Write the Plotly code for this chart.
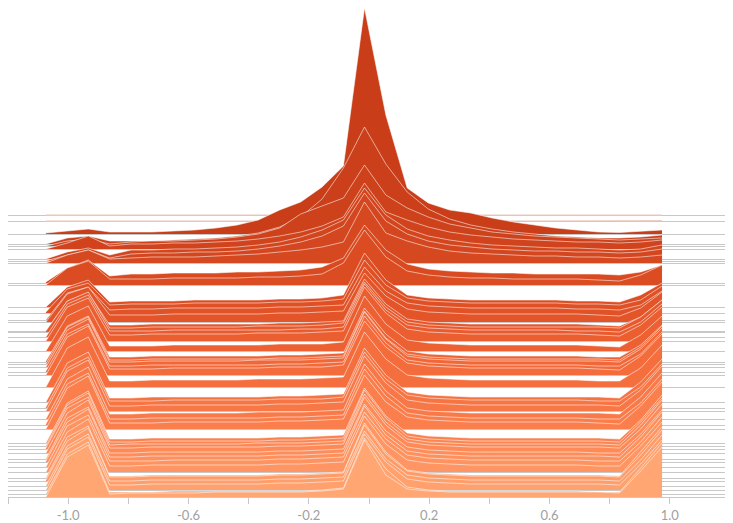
import plotly.graph_objects as go

# sample positions shared by every ridge
x_vals = [-1.074, -1.003, -0.933, -0.862, -0.791, -0.721, -0.650, -0.580, -0.509, -0.438,
          -0.368, -0.297, -0.227, -0.156, -0.085, -0.015, 0.056, 0.127, 0.197, 0.268,
          0.338, 0.409, 0.480, 0.550, 0.621, 0.691, 0.762, 0.833, 0.903, 0.974]

# vertical offset of each ridge, back (top) to front (bottom)
offsets = [282, 276, 263, 253, 251, 248, 238, 236, 234, 214, 212, 190, 184, 177, 175,
           166, 165, 160, 156, 146, 135, 133, 130, 125, 122, 110, 95, 89, 86, 78, 72, 68,
           54, 51, 48, 44, 38, 35, 30, 25, 19, 16, 11, 7, 3, 0]

# height of each ridge above its offset
ridge_values = [
    [0.2, 0.3, 0.4, 0.3, 0.3, 0.3, 0.3, 0.3, 0.3, 0.3, 0.3, 0.3, 0.3, 0.3, 0.3, 0.4, 0.3, 0.3, 0.3, 0.3, 0.3, 0.3, 0.3, 0.3, 0.3, 0.3, 0.3, 0.3, 0.3, 0.3],
    [0.2, 0.3, 0.4, 0.3, 0.3, 0.3, 0.3, 0.3, 0.3, 0.3, 0.3, 0.3, 0.3, 0.3, 0.4, 0.5, 0.4, 0.3, 0.3, 0.3, 0.3, 0.3, 0.3, 0.3, 0.3, 0.3, 0.3, 0.3, 0.3, 0.4],
    [1, 3, 5, 2, 2, 2, 3, 4, 6, 9, 14, 24, 32, 47, 68, 226, 119, 46, 31, 24, 21, 16, 12, 9, 6, 4, 2, 1.5, 2.5, 4],
    [0, 6, 8, 3, 3, 3, 4, 5, 6, 8, 11, 17, 27, 45, 76, 117, 80, 52, 35, 25, 19, 15, 12, 10, 8, 7, 6, 6, 7, 9],
    [0, 5, 7, 2, 4, 5, 5, 6, 7, 9, 12, 18, 32, 40, 48, 81, 51, 38, 29, 22, 18, 14, 12, 10, 9, 8, 7, 6, 7, 8],
    [0, 6, 13, 3, 5, 5, 6, 6, 7, 8, 10, 13, 17, 23, 32, 66, 37, 29, 22, 17, 14, 12, 10, 9, 8, 7, 7, 6, 7, 9],
    [0, 7, 11, 4, 9, 9, 10, 10, 11, 12, 14, 17, 22, 29, 39, 71, 44, 30, 23, 19, 16, 14, 13, 12, 11, 11, 10, 9, 10, 14],
    [0, 6, 11, 3, 7, 8, 8, 9, 9, 10, 12, 15, 19, 25, 35, 68, 40, 27, 20, 16, 14, 12, 11, 10, 10, 9, 9, 8, 9, 12],
    [0, 8, 13, 4, 5, 6, 6, 6, 7, 8, 9, 11, 13, 16, 21, 61, 30, 22, 16, 12, 10, 9, 8, 7, 7, 6, 6, 5, 6, 8],
    [1, 15, 23, 7, 9, 9, 10, 10, 10, 11, 11, 12, 13, 16, 25, 58, 33, 19, 14, 12, 11, 10, 10, 9, 9, 9, 9, 8, 11, 18],
    [0, 17, 24, 6, 6, 6, 7, 7, 7, 7, 8, 8, 9, 11, 22, 55, 28, 14, 10, 8, 7, 7, 6, 6, 6, 6, 5, 4, 10, 20],
    [0, 20, 27, 5, 6, 6, 6, 7, 7, 7, 7, 8, 8, 9, 12, 54, 27, 12, 9, 8, 7, 7, 7, 7, 7, 6, 6, 5, 12, 24],
    [1, 24, 30, 8, 9, 9, 9, 10, 10, 10, 10, 11, 11, 12, 14, 53, 28, 15, 12, 11, 10, 10, 10, 10, 10, 9, 9, 8, 13, 27],
    [0, 27, 33, 10, 11, 11, 12, 12, 12, 12, 12, 13, 13, 14, 15, 53, 29, 17, 14, 13, 12, 12, 12, 12, 12, 11, 11, 10, 15, 29],
    [0, 28, 35, 7, 7, 7, 8, 8, 8, 8, 8, 9, 9, 10, 11, 49, 26, 13, 10, 9, 8, 8, 8, 8, 8, 8, 7, 6, 14, 30],
    [0, 30, 38, 6, 6, 7, 7, 7, 7, 7, 7, 8, 8, 9, 10, 52, 27, 12, 9, 8, 7, 7, 7, 7, 7, 7, 6, 5, 14, 31],
    [1, 31, 40, 4, 4, 5, 5, 5, 5, 5, 6, 6, 6, 7, 9, 50, 25, 10, 7, 6, 5, 5, 5, 5, 5, 5, 5, 4, 15, 32],
    [0, 33, 42, 6, 6, 6, 7, 7, 7, 7, 7, 7, 8, 8, 10, 53, 27, 12, 9, 8, 7, 7, 7, 7, 7, 6, 6, 5, 15, 33],
    [0, 34, 43, 6, 6, 7, 7, 7, 7, 7, 8, 8, 8, 9, 10, 54, 28, 12, 9, 8, 7, 7, 7, 7, 7, 7, 6, 5, 16, 34],
    [0, 35, 45, 5, 5, 5, 6, 6, 6, 6, 6, 7, 7, 7, 9, 55, 27, 11, 8, 7, 6, 6, 6, 6, 6, 6, 5, 4, 16, 35],
    [1, 36, 46, 5, 5, 6, 6, 6, 6, 6, 6, 7, 7, 8, 9, 54, 28, 11, 8, 7, 6, 6, 6, 6, 6, 6, 5, 5, 17, 37],
    [0, 37, 47, 4, 4, 5, 5, 5, 5, 5, 5, 6, 6, 7, 8, 53, 26, 10, 7, 6, 5, 5, 5, 5, 5, 5, 5, 4, 17, 38],
    [0, 37, 48, 5, 5, 6, 6, 6, 6, 6, 7, 7, 7, 8, 9, 55, 28, 11, 8, 7, 6, 6, 6, 6, 6, 6, 6, 5, 18, 39],
    [1, 38, 48, 6, 6, 7, 7, 7, 7, 7, 7, 8, 8, 9, 10, 56, 29, 12, 9, 8, 7, 7, 7, 7, 7, 7, 6, 6, 18, 40],
    [0, 38, 49, 6, 6, 6, 7, 7, 7, 7, 7, 8, 8, 8, 10, 54, 28, 12, 9, 8, 7, 7, 7, 7, 7, 7, 6, 5, 19, 41],
    [0, 39, 50, 6, 6, 7, 7, 7, 7, 7, 8, 8, 8, 9, 10, 55, 28, 12, 9, 8, 7, 7, 7, 7, 7, 7, 6, 6, 19, 42],
    [0, 39, 50, 4, 4, 5, 5, 5, 5, 5, 5, 6, 6, 7, 8, 54, 27, 10, 7, 6, 5, 5, 5, 5, 5, 5, 5, 4, 20, 43],
    [1, 40, 51, 7, 7, 7, 8, 8, 8, 8, 8, 9, 9, 9, 11, 56, 29, 13, 10, 9, 8, 8, 8, 8, 8, 8, 7, 7, 21, 44],
    [0, 40, 51, 5, 5, 6, 6, 6, 6, 6, 6, 7, 7, 8, 9, 55, 28, 11, 8, 7, 6, 6, 6, 6, 6, 6, 6, 5, 21, 45],
    [0, 40, 52, 5, 5, 6, 6, 6, 6, 6, 7, 7, 7, 8, 9, 55, 28, 11, 8, 7, 6, 6, 6, 6, 6, 6, 6, 5, 22, 46],
    [1, 41, 52, 6, 6, 7, 7, 7, 7, 7, 7, 8, 8, 9, 10, 56, 29, 12, 9, 8, 7, 7, 7, 7, 7, 7, 6, 6, 22, 46],
    [0, 41, 53, 6, 6, 6, 7, 7, 7, 7, 7, 8, 8, 9, 10, 54, 27, 12, 9, 8, 7, 7, 7, 7, 7, 7, 6, 5, 23, 47],
    [0, 40, 52, 4, 4, 5, 5, 5, 5, 5, 5, 6, 6, 7, 8, 55, 27, 10, 7, 6, 5, 5, 5, 5, 5, 5, 5, 4, 23, 48],
    [0, 41, 53, 4, 4, 5, 5, 5, 5, 5, 5, 6, 6, 7, 8, 56, 28, 10, 7, 6, 5, 5, 5, 5, 5, 5, 5, 4, 24, 48],
    [1, 41, 52, 4, 5, 5, 5, 5, 5, 5, 6, 6, 6, 7, 8, 55, 27, 10, 7, 6, 5, 5, 5, 5, 5, 5, 5, 4, 24, 49],
    [0, 40, 53, 5, 5, 6, 6, 6, 6, 6, 6, 7, 7, 8, 9, 56, 28, 11, 8, 7, 6, 6, 6, 6, 6, 6, 6, 5, 24, 49],
    [0, 41, 52, 6, 6, 7, 7, 7, 7, 7, 7, 8, 8, 9, 10, 55, 28, 12, 9, 8, 7, 7, 7, 7, 7, 7, 6, 6, 25, 49],
    [1, 40, 53, 5, 5, 6, 6, 6, 6, 6, 6, 7, 7, 8, 9, 56, 27, 11, 8, 7, 6, 6, 6, 6, 6, 6, 6, 5, 25, 50],
    [0, 41, 52, 6, 6, 6, 7, 7, 7, 7, 7, 8, 8, 9, 10, 55, 28, 12, 9, 8, 7, 7, 7, 7, 7, 7, 6, 6, 25, 50],
    [0, 40, 53, 6, 6, 7, 7, 7, 7, 7, 7, 8, 8, 9, 10, 56, 28, 12, 9, 8, 7, 7, 7, 7, 7, 7, 6, 6, 26, 50],
    [0, 41, 52, 2, 2, 3, 3, 3, 3, 3, 3, 4, 4, 5, 6, 55, 26, 8, 5, 4, 3, 3, 3, 3, 3, 3, 3, 2, 26, 51],
    [1, 40, 53, 4, 4, 5, 5, 5, 5, 5, 5, 6, 6, 7, 8, 56, 27, 10, 7, 6, 5, 5, 5, 5, 5, 5, 5, 4, 26, 51],
    [0, 40, 52, 5, 5, 6, 6, 6, 6, 6, 6, 7, 7, 8, 9, 55, 27, 11, 8, 7, 6, 6, 6, 6, 6, 6, 6, 5, 26, 51],
    [0, 41, 53, 5, 5, 6, 6, 6, 6, 6, 6, 7, 7, 8, 9, 56, 28, 11, 8, 7, 6, 6, 6, 6, 6, 6, 6, 5, 26, 50],
    [0, 40, 52, 2, 2, 2, 3, 3, 3, 3, 3, 3, 3, 4, 6, 56, 25, 7, 4, 3, 3, 3, 3, 3, 3, 3, 2, 2, 26, 51],
    [0, 40, 52, 3, 4, 4, 4, 4, 5, 5, 5, 5, 5, 6, 8, 57, 22, 8, 6, 5, 5, 5, 5, 5, 5, 5, 5, 4, 26, 50],
]

tick_vals = [-1.2, -1.0, -0.8, -0.6, -0.4, -0.2, 0.0, 0.2, 0.4, 0.6, 0.8, 1.0, 1.2]
tick_text = ["", "-1.0", "", "-0.6", "", "-0.2", "", "0.2", "", "0.6", "", "1.0", ""]

# dark red at the back, light orange at the front
color_stops = [(0.0, (196, 58, 22)), (0.25, (222, 78, 36)), (0.5, (243, 104, 56)),
               (0.75, (253, 135, 84)), (1.0, (255, 166, 114))]


def ridge_color(t):
    for (t0, c0), (t1, c1) in zip(color_stops[:-1], color_stops[1:]):
        if t <= t1:
            f = (t - t0) / (t1 - t0)
            rgb = [round(a + (b - a) * f) for a, b in zip(c0, c1)]
            return "rgb({},{},{})".format(*rgb)
    return "rgb({},{},{})".format(*color_stops[-1][1])


fig = go.Figure()
n = len(offsets)
for i, (off, vals) in enumerate(zip(offsets, ridge_values)):
    color = ridge_color(i / (n - 1))
    fig.add_trace(go.Scatter(
        x=x_vals, y=[off] * len(x_vals), mode="lines",
        line=dict(width=0), hoverinfo="skip", showlegend=False,
    ))
    fig.add_trace(go.Scatter(
        x=x_vals, y=[off + v for v in vals], mode="lines",
        fill="tonexty", fillcolor=color,
        line=dict(color="rgba(255,255,255,0.55)", width=1),
        showlegend=False,
    ))

# the page body keeps its default 8px margin, so the figure is sized to fit inside it
fig.update_layout(
    template="none",
    width=725, height=515,
    margin=dict(l=0, r=3, t=0, b=26),
    paper_bgcolor="white", plot_bgcolor="white",
    font=dict(family="Lato, sans-serif", size=13, color="#a0a0a0"),
    xaxis=dict(
        range=[-1.2, 1.2], tickmode="array", tickvals=tick_vals, ticktext=tick_text,
        ticks="outside", ticklen=6, tickcolor="#c8c8c8", showline=True,
        linecolor="#c8c8c8", showgrid=False, zeroline=False,
    ),
    yaxis=dict(
        range=[0, 489], tickmode="array", tickvals=offsets, showticklabels=False,
        ticks="", showgrid=True, gridcolor="#c8c8c8", gridwidth=1,
        zeroline=False, showline=False,
    ),
)

fig.write_html("out.html")
